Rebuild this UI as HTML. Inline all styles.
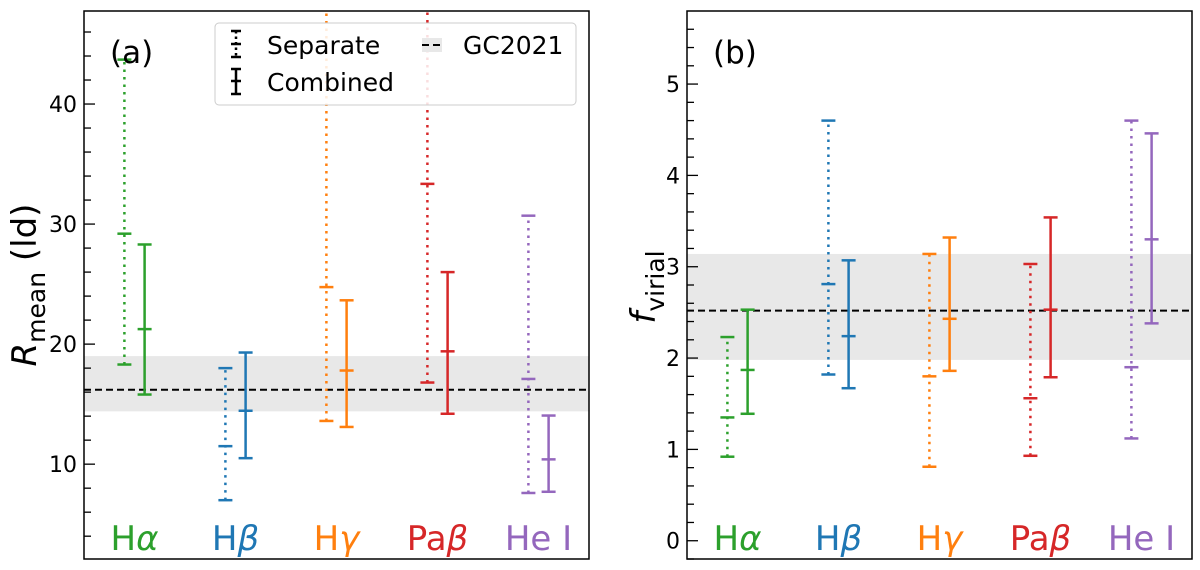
<!DOCTYPE html>
<html><head><meta charset="utf-8"><style>
body{margin:0;background:#fff}
svg{display:block;font-family:"DejaVu Sans","Liberation Sans",sans-serif}
</style></head><body>
<svg id="chart" width="1200" height="570" viewBox="0 0 1200 570" xmlns="http://www.w3.org/2000/svg"></svg>
<script>
const categories = ["H\u03b1","H\u03b2","H\u03b3","Pa\u03b2","He I"];
const colors = ["#2ca02c","#1f77b4","#ff7f0e","#d62728","#9467bd"];
// panel a: R_mean
const aSepLow  = [18.3, 7.0, 13.6, 16.8, 7.6];
const aSepMid  = [29.2, 11.5, 24.75, 33.35, 17.1];
const aSepHigh = [43.7, 18.0, 60, 60, 30.7];
const aCombLow = [15.8, 10.5, 13.1, 14.2, 7.7];
const aCombMid = [21.25, 14.45, 17.8, 19.4, 10.4];
const aCombHigh= [28.3, 19.3, 23.65, 26.0, 14.05];
const aRef = [14.4, 16.2, 19.0];
const aTicks = [10, 20, 30, 40];
// panel b: f_virial
const bSepLow  = [0.92, 1.82, 0.81, 0.93, 1.12];
const bSepMid  = [1.35, 2.81, 1.80, 1.56, 1.90];
const bSepHigh = [2.23, 4.6, 3.14, 3.03, 4.6];
const bCombLow = [1.39, 1.67, 1.86, 1.79, 2.38];
const bCombMid = [1.87, 2.24, 2.43, 2.53, 3.30];
const bCombHigh= [2.53, 3.07, 3.32, 3.54, 4.46];
const bRef = [1.98, 2.52, 3.14];
const bTicks = [0, 1, 2, 3, 4, 5];

const NS="http://www.w3.org/2000/svg";
const svg=document.getElementById('chart');
function el(tag,attrs,parent){const e=document.createElementNS(NS,tag);for(const k in attrs)e.setAttribute(k,attrs[k]);(parent||svg).appendChild(e);return e;}

function panel(cfg){
  const {L,R,T,B,ymin,ymax,minor,ticks,sepL,sepM,sepH,cL,cM,cH,ref,label,id}=cfg;
  const g=el('g',{});
  
  
  const xs=v=>L+(v-0.5)/5*(R-L);
  const ys=v=>B-(v-ymin)/(ymax-ymin)*(B-T);
  const clip=el('clipPath',{id:'clip-'+id},g);
  el('rect',{x:L,y:T,width:R-L,height:B-T},clip);
  const inner=el('g',{'clip-path':'url(#clip-'+id+')'},g);
  const band=el('rect',{x:L,y:ys(ref[2]),width:R-L,height:ys(ref[0])-ys(ref[2]),fill:'#e8e8e8'},inner);
  
  
  const rl=el('line',{x1:L,x2:R,y1:ys(ref[1]),y2:ys(ref[1]),stroke:'#000','stroke-width':2,'stroke-dasharray':'7,4'},inner);
  
  
  function bar(x,lo,mid,hi,color,dotted,name){
    const bg=el('g',{stroke:color,'stroke-width':2.5,fill:'none'},inner);
    
    
    const px=xs(x);
    el('line',{x1:px,x2:px,y1:ys(lo),y2:ys(hi),'stroke-dasharray':dotted?'2.5,5':'none'},bg);
    [lo,mid,hi].forEach(v=>el('line',{x1:px-7,x2:px+7,y1:ys(v),y2:ys(v)},bg));
  }
  categories.forEach((c,i)=>{
    bar(i+1-0.1,sepL[i],sepM[i],sepH[i],colors[i],true,'separate-errorbar-'+i);
    bar(i+1+0.1,cL[i],cM[i],cH[i],colors[i],false,'combined-errorbar-'+i);
    const t=el('text',{x:xs(i+1),y:B-9,'text-anchor':'middle','font-size':34,fill:colors[i]},g);
    
    
    const m=c.match(/^(\w+?)([\u03b1-\u03b3])$/);
    if(m){el('tspan',{},t).textContent=m[1];const s=el('tspan',{'font-style':'italic'},t);s.textContent=m[2];}
    else t.textContent=c;
  });
  for(let v=Math.ceil(ymin/minor)*minor; v<=ymax; v+=minor){
    const isMajor=ticks.some(t=>Math.abs(t-v)<1e-6);
    el('line',{x1:L,x2:L+(isMajor?11:7),y1:ys(v),y2:ys(v),stroke:'#000','stroke-width':1.3},g);
  }
  ticks.forEach(v=>{
    const t=el('text',{x:L-7,y:ys(v)+8,'text-anchor':'end','font-size':22,fill:'#000'},g);
    
    
    t.textContent=v;
  });
  el('rect',{x:L,y:T,width:R-L,height:B-T,fill:'none',stroke:'#000','stroke-width':1.5},g);
  const pl=el('text',{x:L+26,y:T+52,'font-size':31,fill:'#000'},g);
  
  
  pl.textContent=label;
}
panel({id:'panel-a',L:84,R:589,T:11,B:559,ymin:2.1,ymax:47.75,minor:2,ticks:aTicks,sepL:aSepLow,sepM:aSepMid,sepH:aSepHigh,cL:aCombLow,cM:aCombMid,cH:aCombHigh,ref:aRef,label:'(a)'});
panel({id:'panel-b',L:687,R:1192,T:11,B:559,ymin:-0.2,ymax:5.8,minor:0.2,ticks:bTicks,sepL:bSepLow,sepM:bSepMid,sepH:bSepHigh,cL:bCombLow,cM:bCombMid,cH:bCombHigh,ref:bRef,label:'(b)'});

let yt=el('text',{transform:'translate(36,285) rotate(-90)','text-anchor':'middle','font-size':34,fill:'#000'});


let s1=el('tspan',{'font-style':'italic'},yt);s1.textContent='R';
let s2=el('tspan',{'font-size':25,dy:9},yt);s2.textContent='mean';
let s3=el('tspan',{dy:-9},yt);s3.textContent=' (ld)';
let yt2=el('text',{transform:'translate(655,287) rotate(-90)','text-anchor':'middle','font-size':34,fill:'#000'});


let u1=el('tspan',{'font-style':'italic'},yt2);u1.textContent='f';
let u2=el('tspan',{'font-size':25,dy:9},yt2);u2.textContent='virial';

const lg=el('g',{});


el('rect',{x:215,y:23,width:361,height:82,rx:4,fill:'#fff','fill-opacity':0.85,stroke:'#ccc','stroke-width':1},lg);
el('line',{x1:236,x2:236,y1:31,y2:57,stroke:'#000','stroke-width':2.5,'stroke-dasharray':'2.5,3'},lg);
[31,44,57].forEach(y=>el('line',{x1:231,x2:241,y1:y,y2:y,stroke:'#000','stroke-width':2.5},lg));
el('line',{x1:236,x2:236,y1:69,y2:94,stroke:'#000','stroke-width':2.5},lg);
[69,81,94].forEach(y=>el('line',{x1:231,x2:241,y1:y,y2:y,stroke:'#000','stroke-width':2.5},lg));
el('rect',{x:422,y:38,width:20,height:14,fill:'#e8e8e8'},lg);
el('line',{x1:422,x2:442,y1:45,y2:45,stroke:'#000','stroke-width':2,'stroke-dasharray':'7,4'},lg);
[['Separate',267,54],['Combined',267,91],['GC2021',463,54]].forEach(([s,x,y])=>{
  const t=el('text',{x:x,y:y,'font-size':25,fill:'#000'},lg);
  
  
  t.textContent=s;
});
</script>
</body></html>
